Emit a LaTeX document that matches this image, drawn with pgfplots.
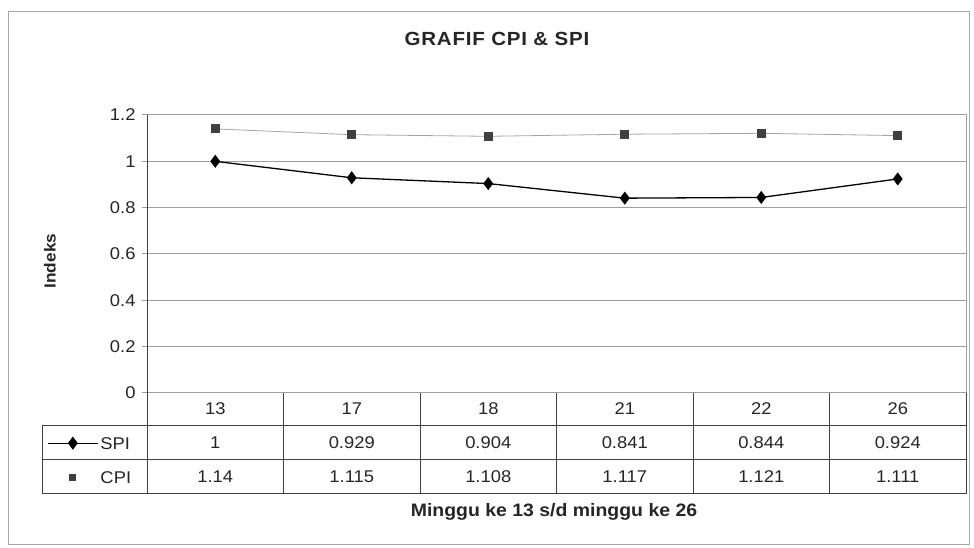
\documentclass[border=0pt]{standalone}
\usepackage{fontspec}
\setmainfont{Liberation Sans}[FakeStretch=1.08]
\usepackage{pgfplots}
\pgfplotsset{compat=1.18}
\definecolor{gridc}{gray}{0.62}
\definecolor{tabc}{gray}{0.25}
\pgfplotsset{
  spileg/.style={legend image code/.code={\draw[mark repeat=2,mark phase=2,##1] plot coordinates {(0pt,0pt) (25pt,0pt) (50pt,0pt)};}},
  cpileg/.style={legend image code/.code={\draw[mark repeat=2,mark phase=2,##1,only marks,mark size=3pt] plot coordinates {(0pt,0pt) (25pt,0pt) (50pt,0pt)};}},
}
\begin{document}
\begin{tikzpicture}
\path[use as bounding box, fill=white] (0pt,0pt) rectangle (974pt,548pt);
\draw[gray!70, line width=1pt] (8pt,3pt) rectangle (969pt,536pt);
\begin{axis}[
  at={(147pt,155pt)}, anchor=south west,
  scale only axis, width=819pt, height=278pt,
  xmin=-0.5, xmax=5.5, ymin=0, ymax=1.2,
  xtick=\empty, ytick={0,0.2,0.4,0.6,0.8,1,1.2},
  ymajorgrids, grid style={gridc, line width=1pt},
  axis line style={gridc, line width=1pt},
  ytick pos=left, ytick align=outside, major tick length=5pt,
  tick style={gridc, line width=1pt},
  tick label style={font=\fontsize{17}{20}\selectfont, text=black!85},
  yticklabel style={xshift=-3pt},
  /pgf/number format/assume math mode=true,
  clip=false,
  legend cell align=left,
  legend style={draw=none, fill=none, at={(-0.1221,-0.1187)}, anchor=north west,
    inner sep=0pt, row sep=0pt, column sep=2pt,
    nodes={inner sep=0pt, minimum height=34pt, text depth=0pt},
    font=\fontsize{17}{20}\selectfont, text=black!85},
]
\addplot[black, line width=1.3pt, mark=diamond*, mark size=5.5pt, mark options={fill=black, solid}, spileg]
  coordinates {(0,1) (1,0.929) (2,0.904) (3,0.841) (4,0.844) (5,0.924)};
\addlegendentry{SPI}
\addplot[gray!70, line width=0.8pt, mark=square*, mark size=4pt, mark options={fill=black!75, draw=black!75}, cpileg]
  coordinates {(0,1.14) (1,1.115) (2,1.108) (3,1.117) (4,1.121) (5,1.111)};
\addlegendentry{CPI}
\end{axis}
% left axis line
\draw[tabc, line width=1pt] (147pt,155pt) -- (147pt,433pt);
% data table
\begin{scope}[tabc, line width=1pt]
\foreach \i in {0,...,6} {
  \pgfmathsetmacro\xx{147+136.5*\i}
  \draw (\xx pt,155pt) -- (\xx pt,54pt);
}
\draw (42pt,122pt) -- (966pt,122pt);
\draw (42pt,88pt) -- (966pt,88pt);
\draw (42pt,54pt) -- (966pt,54pt);
\draw (42pt,122pt) -- (42pt,54pt);
\end{scope}
\foreach \c/\s/\p [count=\i from 0] in {13/1/1.14, 17/0.929/1.115, 18/0.904/1.108, 21/0.841/1.117, 22/0.844/1.121, 26/0.924/1.111} {
  \pgfmathsetmacro\xx{215.25+136.5*\i}
  \node[font=\fontsize{17}{20}\selectfont, text=black!85] at (\xx pt,139pt) {\c};
  \node[font=\fontsize{17}{20}\selectfont, text=black!85] at (\xx pt,105pt) {\s};
  \node[font=\fontsize{17}{20}\selectfont, text=black!85] at (\xx pt,71pt) {\p};
}
\node[font=\fontsize{19}{22}\selectfont\bfseries\addfontfeature{LetterSpace=4}, text=black!85] at (497pt,509pt) {GRAFIF CPI \& SPI};
\node[rotate=90, font=\fontsize{16}{19}\selectfont\bfseries, text=black!85] at (50pt,287pt) {Indeks};
\node[font=\fontsize{18}{22}\selectfont\bfseries, text=black!85] at (554pt,36pt) {Minggu ke 13 s/d minggu ke 26};
\end{tikzpicture}
\end{document}
